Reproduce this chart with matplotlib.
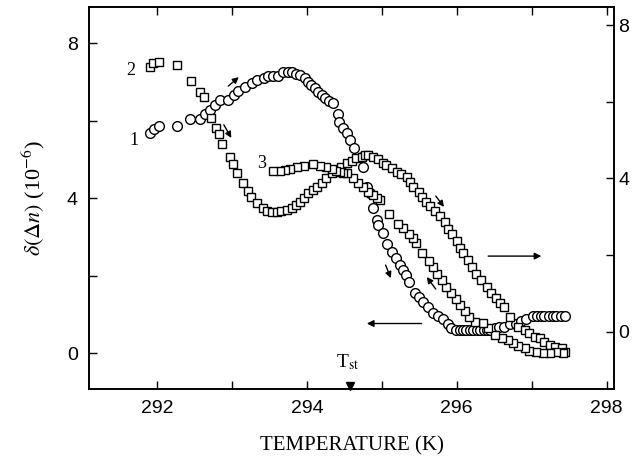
import matplotlib.pyplot as plt

plt.rcParams['font.family'] = ['Liberation Sans', 'DejaVu Sans']
plt.rcParams['mathtext.fontset'] = 'stix'

# 圓圈: curve 1 (left axis)
circ_T = [291.90, 291.96, 292.02, 292.27, 292.44, 292.57, 292.64, 292.71, 292.77, 292.84,
          292.95, 293.02, 293.08, 293.17, 293.26, 293.33, 293.42, 293.48, 293.55, 293.62,
          293.68, 293.75, 293.80, 293.86, 293.91, 293.97, 294.02, 294.06, 294.11, 294.15,
          294.20, 294.24, 294.30, 294.35, 294.42, 294.43, 294.48, 294.53, 294.58, 294.63,
          294.73, 294.75, 294.80, 294.84, 294.88, 294.93, 294.95, 295.02, 295.07, 295.13,
          295.19, 295.24, 295.28, 295.32, 295.36, 295.44, 295.50, 295.55, 295.62, 295.68,
          295.75, 295.82, 295.88, 295.93, 295.99, 296.04, 296.09, 296.13, 296.18, 296.22,
          296.27, 296.31, 296.36, 296.40, 296.44, 296.51, 296.57, 296.63, 296.71, 296.79,
          296.86, 296.93, 297.02, 297.07, 297.12, 297.17, 297.23, 297.28, 297.33, 297.39,
          297.44]
circ_val = [5.68, 5.78, 5.87, 5.87, 6.06, 6.06, 6.19, 6.28, 6.41, 6.54,
            6.55, 6.67, 6.78, 6.88, 6.97, 7.05, 7.12, 7.16, 7.16, 7.16,
            7.27, 7.27, 7.27, 7.22, 7.18, 7.10, 7.01, 6.92, 6.84, 6.75,
            6.67, 6.58, 6.52, 6.47, 6.19, 5.98, 5.81, 5.68, 5.50, 5.29,
            5.07, 4.82, 4.30, 4.13, 3.74, 3.44, 3.31, 3.11, 2.82, 2.62,
            2.45, 2.28, 2.15, 2.02, 1.85, 1.56, 1.45, 1.33, 1.19, 1.03,
            0.96, 0.88, 0.77, 0.65, 0.60, 0.60, 0.60, 0.60, 0.60, 0.60,
            0.60, 0.60, 0.60, 0.60, 0.60, 0.66, 0.69, 0.69, 0.75, 0.77,
            0.83, 0.89, 0.97, 0.97, 0.97, 0.97, 0.97, 0.97, 0.97, 0.97,
            0.97]

# 方塊: curve 2 + curve 3 (right axis)
sq_T = [291.90,291.95, 292.03, 292.27, 292.45, 292.57, 292.62, 292.72, 292.79, 292.83,
        292.86, 292.97, 293.01, 293.06, 293.14, 293.21, 293.25, 293.33, 293.41, 293.47,
        293.53, 293.60, 293.66, 293.73, 293.80, 293.85, 293.91, 293.96, 294.02, 294.08,
        294.14, 294.20, 294.26, 294.33, 294.40, 294.46, 294.53, 294.60, 294.66, 294.73,
        294.77, 294.82, 294.88, 294.95, 295.01, 295.06, 295.13, 295.20, 295.26, 295.33,
        295.37, 295.42, 295.50, 295.54, 295.59, 295.64, 295.71, 295.77, 295.85, 295.88,
        295.94, 296.00, 296.05, 296.09, 296.15, 296.21, 296.26, 296.33, 296.40, 296.46,
        296.52, 296.58, 296.63, 296.71, 296.82, 296.91, 296.97, 297.04, 297.11, 297.17,
        297.24, 297.31, 297.40, 297.44,
        # curve 3, cooling back
        297.42, 297.33, 297.24, 297.15, 297.06, 296.97, 296.91, 296.82, 296.75, 296.68,
        296.60, 296.51, 296.42, 296.35, 296.25, 296.17, 296.11, 296.04, 295.99, 295.93,
        295.86, 295.80, 295.73, 295.68, 295.63, 295.54, 295.46, 295.42, 295.36, 295.28,
        295.22, 295.10, 294.97, 294.93, 294.88, 294.82, 294.75, 294.68, 294.62, 294.54,
        294.48, 294.44, 294.39, 294.33, 294.26, 294.17, 294.08, 293.96, 293.87, 293.77,
        293.71, 293.64, 293.55]
sq_val = [6.90, 7.00, 7.04, 6.96, 6.54, 6.26, 6.12, 5.57, 5.31, 5.15,
          4.90, 4.57, 4.38, 4.13, 3.89, 3.68, 3.52, 3.37, 3.22, 3.16,
          3.13, 3.13, 3.15, 3.17, 3.24, 3.31, 3.39, 3.48, 3.61, 3.70,
          3.78, 3.89, 4.00, 4.13, 4.22, 4.30, 4.39, 4.46, 4.52, 4.57,
          4.61, 4.61, 4.57, 4.50, 4.41, 4.35, 4.26, 4.17, 4.11, 4.03,
          3.91, 3.78, 3.65, 3.52, 3.39, 3.28, 3.15, 3.02, 2.87, 2.67,
          2.54, 2.37, 2.19, 2.05, 1.87, 1.70, 1.52, 1.35, 1.17, 1.00,
          0.87, 0.76, 0.64, 0.39, 0.13, 0.04, -0.04, -0.13, -0.17, -0.26,
          -0.35, -0.39, -0.43, -0.52,
          -0.54, -0.52, -0.54, -0.54, -0.52, -0.50, -0.43, -0.37, -0.30, -0.22,
          -0.16, -0.07, 0.09, 0.22, 0.26, 0.39, 0.55, 0.70, 0.85, 1.00,
          1.17, 1.35, 1.52, 1.70, 1.85, 2.06, 2.31, 2.44, 2.55, 2.70,
          2.81, 3.07, 3.44, 3.48, 3.57, 3.65, 3.78, 3.89, 4.00, 4.13,
          4.13, 4.17, 4.20, 4.24, 4.29, 4.33, 4.37, 4.33, 4.31, 4.24,
          4.22, 4.19, 4.19]

x_ticks = [292, 293, 294, 295, 296, 297, 298]
x_labels = ['292', '', '294', '', '296', '', '298']
y_ticks = [0, 2, 4, 6, 8]
y_labels = ['0', '', '4', '', '8']
T_st = 294.57

fig = plt.figure(figsize=(6.33, 4.58), dpi=100)
ax = fig.add_axes([0.1406, 0.1507, 0.8294, 0.834])
ax2 = ax.twinx()

ax.plot(circ_T, circ_val, 'o', ms=7, mfc='white', mec='black', mew=1.0, zorder=3)
ax2.plot(sq_T, sq_val, 's', ms=6.3, mfc='white', mec='black', mew=1.0, zorder=3)

ax.set_xlim(291.09, 298.1)
ax.set_ylim(-0.92, 8.94)
ax2.set_ylim(-1.49, 8.47)

ax.set_xticks(x_ticks)
ax.set_xticklabels(x_labels)
ax.set_yticks(y_ticks)
ax.set_yticklabels(y_labels)
ax2.set_yticks(y_ticks)
ax2.set_yticklabels(y_labels)

ax.tick_params(axis='x', direction='in', top=True, length=6, width=1, labelsize=14, pad=8)
ax.tick_params(axis='y', direction='in', length=6, width=1, labelsize=14, pad=8)
ax2.tick_params(axis='y', direction='in', length=6, width=1, labelsize=14, pad=3)
for a in (ax, ax2):
    for s in a.spines.values():
        s.set_linewidth(1.2)

ax.set_xlabel('TEMPERATURE (K)', family='Liberation Serif', fontsize=15, labelpad=14)
ax.set_ylabel(r'$\delta(\mathit{\Delta n})$ (10$^{-6}$)', family='Liberation Serif',
              fontsize=16, labelpad=14)

# 曲線編號
ax.text(291.69, 5.50, '1', family='Liberation Serif', fontsize=13, ha='center', va='center')
ax.text(291.65, 7.31, '2', family='Liberation Serif', fontsize=13, ha='center', va='center')
ax.text(293.39, 4.90, '3', family='Liberation Serif', fontsize=13, ha='center', va='center')

# 小箭頭 (heating / cooling 方向)
small = [((292.95, 6.90), (293.09, 7.13)),
         ((292.89, 5.90), (292.99, 5.56)),
         ((295.72, 4.06), (295.83, 3.78)),
         ((295.05, 2.28), (295.12, 1.94)),
         ((295.72, 1.66), (295.60, 1.97))]
for tail, head in small:
    ax.annotate('', xy=head, xytext=tail,
                arrowprops=dict(arrowstyle='-|>', color='black', lw=1,
                                mutation_scale=9, shrinkA=0, shrinkB=0))

# 長箭頭: 哪條曲線對應哪個軸
ax.annotate('', xy=(294.80, 0.77), xytext=(295.53, 0.77),
            arrowprops=dict(arrowstyle='-|>', color='black', lw=1, mutation_scale=10,
                            shrinkA=0, shrinkB=0))
ax.annotate('', xy=(297.13, 2.51), xytext=(296.42, 2.51),
            arrowprops=dict(arrowstyle='-|>', color='black', lw=1, mutation_scale=10,
                            shrinkA=0, shrinkB=0))

# T_st 標記
ax.plot([T_st], [-0.84], 'v', color='black', ms=6, clip_on=False)
ax.text(T_st - 0.02, -0.22, r'T$_{\rm st}$', family='Liberation Serif', fontsize=14,
        ha='center', va='center')

fig.savefig('out.png', dpi=100)
